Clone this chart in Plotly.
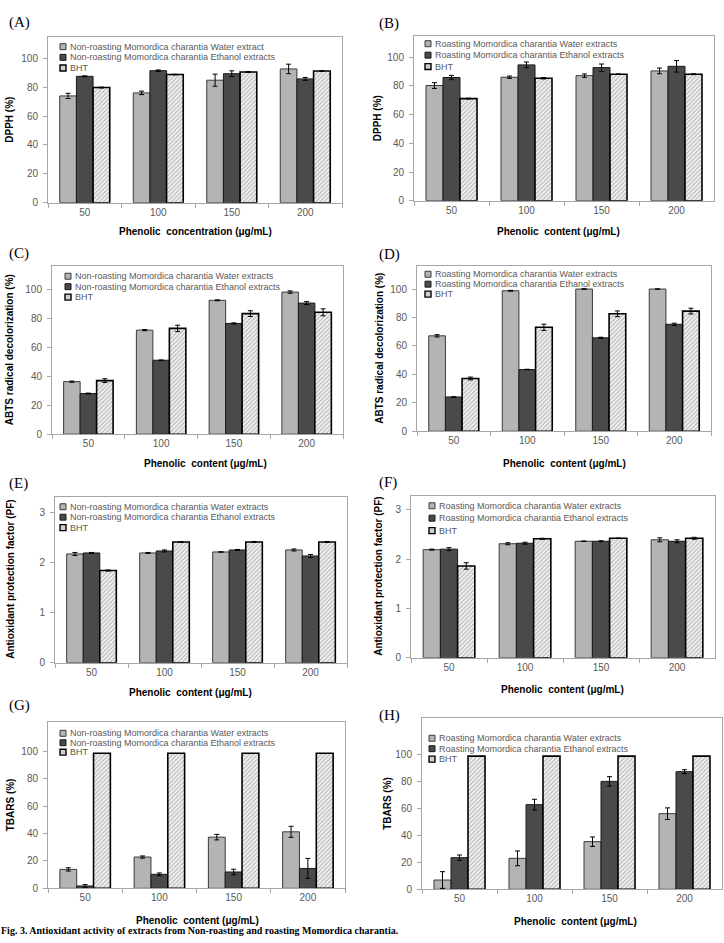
import plotly.graph_objects as go

categories = ["50", "100", "150", "200"]

# (A) DPPH, non-roasting
a_water = [74.0, 76.1, 84.9, 92.7]
a_water_err = [1.8, 1.2, 4.2, 3.3]
a_ethanol = [87.6, 91.5, 89.4, 85.8]
a_ethanol_err = [0.3, 0.5, 2.0, 1.0]
a_bht = [79.8, 88.8, 90.6, 91.3]
a_bht_err = [0.3, 0.2, 0.3, 0.2]

# (B) DPPH, roasting
b_water = [80.3, 86.1, 87.2, 90.5]
b_water_err = [2.0, 0.8, 1.2, 2.0]
b_ethanol = [85.9, 94.7, 92.8, 93.7]
b_ethanol_err = [1.5, 2.0, 2.5, 4.0]
b_bht = [71.2, 85.4, 88.2, 88.2]
b_bht_err = [0.3, 0.5, 0.2, 0.3]

# (C) ABTS, non-roasting
c_water = [36.3, 71.9, 92.5, 98.2]
c_water_err = [0.4, 0.4, 0.3, 0.8]
c_ethanol = [28.1, 51.1, 76.5, 90.6]
c_ethanol_err = [0.3, 0.2, 0.4, 1.0]
c_bht = [37.0, 73.1, 83.3, 84.2]
c_bht_err = [1.3, 2.2, 2.0, 2.4]

# (D) ABTS, roasting
d_water = [67.1, 98.8, 100.0, 100.0]
d_water_err = [0.8, 0.3, 0.2, 0.0]
d_ethanol = [24.1, 43.4, 65.7, 75.2]
d_ethanol_err = [0.1, 0.2, 0.4, 0.8]
d_bht = [37.1, 73.1, 82.6, 84.5]
d_bht_err = [1.0, 2.2, 2.0, 2.0]

# (E) Antioxidant protection factor, non-roasting
e_water = [2.17, 2.19, 2.21, 2.25]
e_water_err = [0.03, 0.01, 0.005, 0.02]
e_ethanol = [2.19, 2.23, 2.25, 2.13]
e_ethanol_err = [0.01, 0.02, 0.01, 0.03]
e_bht = [1.84, 2.41, 2.41, 2.41]
e_bht_err = [0.01, 0.005, 0.01, 0.01]

# (F) Antioxidant protection factor, roasting
f_water = [2.19, 2.31, 2.36, 2.39]
f_water_err = [0.01, 0.02, 0.005, 0.04]
f_ethanol = [2.20, 2.32, 2.36, 2.36]
f_ethanol_err = [0.03, 0.02, 0.01, 0.03]
f_bht = [1.86, 2.41, 2.42, 2.42]
f_bht_err = [0.065, 0.01, 0.005, 0.02]

# (G) TBARS, non-roasting
g_water = [13.8, 22.8, 37.3, 41.2]
g_water_err = [1.2, 0.8, 2.0, 4.0]
g_ethanol = [1.7, 10.2, 11.9, 14.5]
g_ethanol_err = [1.0, 1.0, 2.0, 7.3]
g_bht = [98.5, 98.5, 98.5, 98.5]

# (H) TBARS, roasting
h_water = [6.9, 23.0, 35.4, 56.2]
h_water_err = [6.2, 5.5, 3.5, 4.3]
h_ethanol = [23.5, 62.9, 80.2, 87.4]
h_ethanol_err = [2.0, 4.0, 3.5, 1.5]
h_bht = [99.0, 99.0, 99.0, 99.0]

pct_ticks = [0, 20, 40, 60, 80, 100]
pf_ticks = [0, 1, 2, 3]

nr_names = ["Non-roasting Momordica charantia Water extracts",
            "Non-roasting Momordica charantia Ethanol extracts", "BHT"]
nr_names_a = ["Non-roasting Momordica charantia Water extract",
              "Non-roasting Momordica charantia Ethanol extracts", "BHT"]
r_names = ["Roasting Momordica charantia Water extracts",
           "Roasting Momordica charantia Ethanol extracts", "BHT"]

y_titles = ["DPPH (%)", "DPPH (%)",
            "ABTS radical decolorization (%)", "ABTS radical decolorization (%)",
            "Antioxidant protection factor (PF)", "Antioxidant protection factor (PF)",
            "TBARS (%)", "TBARS (%)"]
x_title_conc = "Phenolic  concentration (μg/mL)"
x_title_cont = "Phenolic  content (μg/mL)"
panel_labels = ["(A)", "(B)", "(C)", "(D)", "(E)", "(F)", "(G)", "(H)"]
caption = "Fig. 3. Antioxidant activity of extracts from Non-roasting and roasting Momordica charantia."

W, H = 724, 943


def fx(px):
    return px / W


def fy(py):
    return 1 - py / H


panels = [
    dict(data=(a_water, a_water_err, a_ethanol, a_ethanol_err, a_bht, a_bht_err), names=nr_names_a,
         box=(48, 342, 37, 204), yr=[0, 115], tv=pct_ticks, xt=x_title_conc, xtpos=(196, 233),
         ytx=10, lab=(7, 23), leg=(60, 47, 10.7)),
    dict(data=(b_water, b_water_err, b_ethanol, b_ethanol_err, b_bht, b_bht_err), names=r_names,
         box=(414, 714, 36, 202), yr=[0, 115], tv=pct_ticks, xt=x_title_cont, xtpos=(558, 233),
         ytx=377, lab=(377, 24), leg=(425, 44, 11.5)),
    dict(data=(c_water, c_water_err, c_ethanol, c_ethanol_err, c_bht, c_bht_err), names=nr_names,
         box=(52, 343, 268, 437), yr=[0, 116], tv=pct_ticks, xt=x_title_cont, xtpos=(205, 466),
         ytx=9, lab=(7, 255), leg=(65, 278, 10.5)),
    dict(data=(d_water, d_water_err, d_ethanol, d_ethanol_err, d_bht, d_bht_err), names=r_names,
         box=(417, 711, 268, 434), yr=[0, 116], tv=pct_ticks, xt=x_title_cont, xtpos=(564, 466),
         ytx=380, lab=(377, 256), leg=(425, 276, 10.0)),
    dict(data=(e_water, e_water_err, e_ethanol, e_ethanol_err, e_bht, e_bht_err), names=nr_names,
         box=(55, 347, 500, 667), yr=[0, 3.31], tv=pf_ticks, xt=x_title_cont, xtpos=(190, 697),
         ytx=11, lab=(7, 487), leg=(60, 510, 10.5)),
    dict(data=(f_water, f_water_err, f_ethanol, f_ethanol_err, f_bht, f_bht_err), names=r_names,
         box=(411, 715, 499, 662), yr=[0, 3.28], tv=pf_ticks, xt=x_title_cont, xtpos=(562, 694),
         ytx=379, lab=(377, 486), leg=(429, 509, 12.5)),
    dict(data=(g_water, g_water_err, g_ethanol, g_ethanol_err, g_bht, None), names=nr_names,
         box=(48, 345, 727, 894), yr=[0, 121], tv=pct_ticks, xt=x_title_cont, xtpos=(197, 926),
         ytx=10, lab=(7, 710), leg=(60, 738, 9.5)),
    dict(data=(h_water, h_water_err, h_ethanol, h_ethanol_err, h_bht, None), names=r_names,
         box=(422, 722, 723, 895), yr=[0, 127], tv=pct_ticks, xt=x_title_cont, xtpos=(575, 927),
         ytx=388, lab=(377, 720), leg=(429, 743, 10.5)),
]

water_fill = "#b4b4b4"
ethanol_fill = "#4a4a4a"
axis_gray = "#a6a6a6"
text_gray = "#595959"

fig = go.Figure()
annotations = []
shapes = []
layout_axes = {}

for i, p in enumerate(panels, start=1):
    xa = "x" if i == 1 else f"x{i}"
    ya = "y" if i == 1 else f"y{i}"
    w, we, e, ee, b, be = p["data"]
    fig.add_trace(go.Bar(
        x=categories, y=w, xaxis=xa, yaxis=ya, name=p["names"][0], showlegend=False,
        marker=dict(color=water_fill, line=dict(color="#3a3a3a", width=1)),
        error_y=dict(type="data", array=we, color="black", thickness=1, width=2.5),
    ))
    fig.add_trace(go.Bar(
        x=categories, y=e, xaxis=xa, yaxis=ya, name=p["names"][1], showlegend=False,
        marker=dict(color=ethanol_fill, line=dict(color="#1a1a1a", width=1)),
        error_y=dict(type="data", array=ee, color="black", thickness=1, width=2.5),
    ))
    bht_kwargs = {}
    if be is not None:
        bht_kwargs["error_y"] = dict(type="data", array=be, color="black", thickness=1, width=2.5)
    fig.add_trace(go.Bar(
        x=categories, y=b, xaxis=xa, yaxis=ya, name=p["names"][2], showlegend=False,
        marker=dict(color="white", line=dict(color="black", width=1.6),
                    pattern=dict(shape="/", fgcolor="#7a7a7a", bgcolor="#f4f4f4", size=3, solidity=0.4)),
        **bht_kwargs,
    ))

    l, r, t, bt = p["box"]
    key = "" if i == 1 else str(i)
    layout_axes[f"xaxis{key}"] = dict(
        domain=[fx(l), fx(r)], anchor=ya, type="category",
        showline=True, linecolor=axis_gray, linewidth=1, mirror=True,
        ticks="outside", tickson="boundaries", ticklen=4, tickcolor=axis_gray,
        showgrid=False, tickfont=dict(family="Liberation Sans, Arial", size=10, color=text_gray),
        fixedrange=True,
    )
    layout_axes[f"yaxis{key}"] = dict(
        domain=[fy(bt), fy(t)], anchor=xa, range=p["yr"], tickmode="array", tickvals=p["tv"],
        showline=True, linecolor=axis_gray, linewidth=1, mirror=True,
        ticks="outside", ticklen=4, tickcolor=axis_gray, showgrid=False, zeroline=False,
        tickfont=dict(family="Liberation Sans, Arial", size=10, color=text_gray),
        ticklabelstandoff=3, fixedrange=True,
    )

    # panel label
    lx, lyy = p["lab"]
    annotations.append(dict(
        text=panel_labels[i - 1], x=fx(lx), y=fy(lyy), xref="paper", yref="paper",
        xanchor="left", yanchor="middle", showarrow=False,
        font=dict(family="Liberation Serif, Times New Roman", size=15, color="black"),
    ))
    # y title
    annotations.append(dict(
        text=f"<b>{y_titles[i - 1]}</b>", x=fx(p["ytx"]), y=fy((t + bt) / 2),
        xref="paper", yref="paper", xanchor="center", yanchor="middle", textangle=-90,
        showarrow=False, font=dict(family="Liberation Sans, Arial", size=10, color="black"),
    ))
    # x title
    xtx, xty = p["xtpos"]
    annotations.append(dict(
        text=f"<b>{p['xt']}</b>", x=fx(xtx), y=fy(xty), xref="paper", yref="paper",
        xanchor="center", yanchor="middle", showarrow=False,
        font=dict(family="Liberation Sans, Arial", size=10, color="black"),
    ))
    # legend (manual, compact)
    mx, my, step = p["leg"]
    sw_fills = [water_fill, ethanol_fill, "#d0d0d0"]
    sw_lines = ["#3a3a3a", "#1a1a1a", "black"]
    for k in range(3):
        cy = my + k * step
        shapes.append(dict(
            type="rect", xref="paper", yref="paper",
            x0=fx(mx), x1=fx(mx + 6), y0=fy(cy + 3), y1=fy(cy - 3),
            fillcolor=sw_fills[k], line=dict(color=sw_lines[k], width=1 if k < 2 else 1.4),
        ))
        annotations.append(dict(
            text=p["names"][k], x=fx(mx + 8), y=fy(cy), xref="paper", yref="paper",
            xanchor="left", yanchor="middle", showarrow=False,
            font=dict(family="Liberation Sans, Arial", size=9, color=text_gray),
        ))

# caption at the very bottom of the page
annotations.append(dict(
    text=f"<b>{caption}</b>",
    x=fx(0), y=0, xref="paper", yref="paper", xanchor="left", yanchor="bottom",
    showarrow=False, borderpad=0,
    font=dict(family="Liberation Serif, Times New Roman", size=10, color="black"),
))

fig.update_layout(
    width=W, height=H, margin=dict(l=0, r=0, t=0, b=0),
    paper_bgcolor="white", plot_bgcolor="white",
    barmode="group", bargap=0.32, bargroupgap=0,
    showlegend=False, annotations=annotations, shapes=shapes,
    **layout_axes,
)

fig.write_html("out.html")
